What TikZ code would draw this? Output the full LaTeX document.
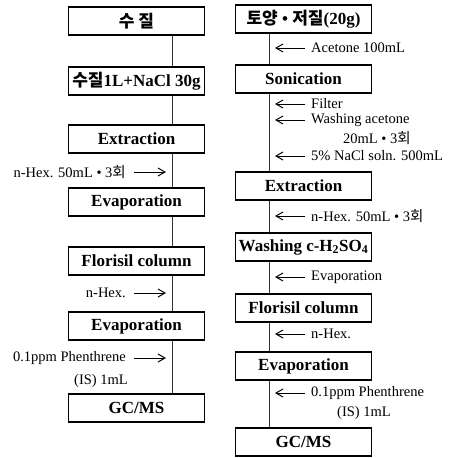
\documentclass[tikz,border=0pt]{standalone}
\usepackage{fontspec}
\setmainfont{Liberation Serif}
\newfontfamily\krfont{Noto Sans CJK KR}
\newcommand{\kr}[1]{{\krfont #1}}
\usetikzlibrary{arrows.meta}
\begin{document}
\begin{tikzpicture}[x=1pt,y=-1pt,
  box/.style={draw, line width=1.2pt, minimum width=136pt, minimum height=28pt, inner sep=0pt,
    font=\bfseries\fontsize{17}{17}\selectfont},
  lab/.style={inner sep=0pt, font=\fontsize{14.5}{17}\selectfont},
  conn/.style={line width=0.8pt, draw=black!80},
  arr/.style={line width=0.9pt, -{Straight Barb[length=7pt,width=8pt,line width=1pt]}}
]
\useasboundingbox (0,0) rectangle (450,458);
% left column
\coordinate (lx) at (172,0);
\node[box] (L1) at (136.5,21)  {\kr{수 질}};
\node[box] (L2) at (136.5,81)  {\kr{수질}1L+NaCl 30g};
\node[box] (L3) at (136.5,139) {Extraction};
\node[box] (L4) at (136.5,202) {Evaporation};
\node[box] (L5) at (136.5,261) {Florisil column};
\node[box] (L6) at (136.5,326) {Evaporation};
\node[box] (L7) at (136.5,408) {GC/MS};
\foreach \a/\b in {L1/L2,L2/L3,L3/L4,L4/L5,L5/L6,L6/L7}
  \draw[conn] (\a.south -| lx) -- (\b.north -| lx);
% left labels
\node[lab, anchor=east] (la1) at (126,172) {n-Hex. 50mL • 3\kr{회}};
\coordinate (la1t) at (166,172);
\draw[arr] (la1.east) ++(8,0) -- (la1t);
\node[lab, anchor=east] (la2) at (126,293) {n-Hex.};
\coordinate (la2t) at (166,293);
\draw[arr] (la2.east) ++(8,0) -- (la2t);
\node[lab, anchor=east] (la3) at (126,358) {0.1ppm Phenthrene};
\node[lab, anchor=east] (la4) at (128,381) {(IS) 1mL};
\coordinate (la3t) at (166,358);
\draw[arr] (la3.east) ++(8,0) -- (la3t);
% right column
\coordinate (rx) at (269,0);
\node[box] (R1) at (303.5,19)  {\kr{토양} • \kr{저질}(20g)};
\node[box] (R2) at (303.5,79)  {Sonication};
\node[box] (R3) at (303.5,186) {Extraction};
\node[box] (R4) at (303.5,247) {Washing c-H\textsubscript{2}SO\textsubscript{4}};
\node[box] (R5) at (303.5,308) {Florisil column};
\node[box] (R6) at (303.5,366) {Evaporation};
\node[box] (R7) at (303.5,442) {GC/MS};
\foreach \a/\b in {R1/R2,R2/R3,R3/R4,R4/R5,R5/R6,R6/R7}
  \draw[conn] (\a.south -| rx) -- (\b.north -| rx);
% right labels
\foreach \n/\y/\t in {r1/48/{Acetone 100mL}, r2/104/{Filter}, r3/120/{Washing acetone},
   r5/156/{5\% NaCl soln. 500mL}, r6/216/{n-Hex. 50mL • 3\kr{회}}, r7/277/{Evaporation},
   r8/334/{n-Hex.}, r9/393/{0.1ppm Phenthrene}} {
  \node[lab, anchor=west] (\n) at (311,\y) {\t};
  \coordinate (\n t) at (275,\y);
  \draw[arr] (\n.west) ++(-6,0) -- (\n t);
}
\node[lab, anchor=west] (r4) at (343,138) {20mL • 3\kr{회}};
\node[lab, anchor=west] (r10) at (337,413) {(IS) 1mL};
\end{tikzpicture}
\end{document}
